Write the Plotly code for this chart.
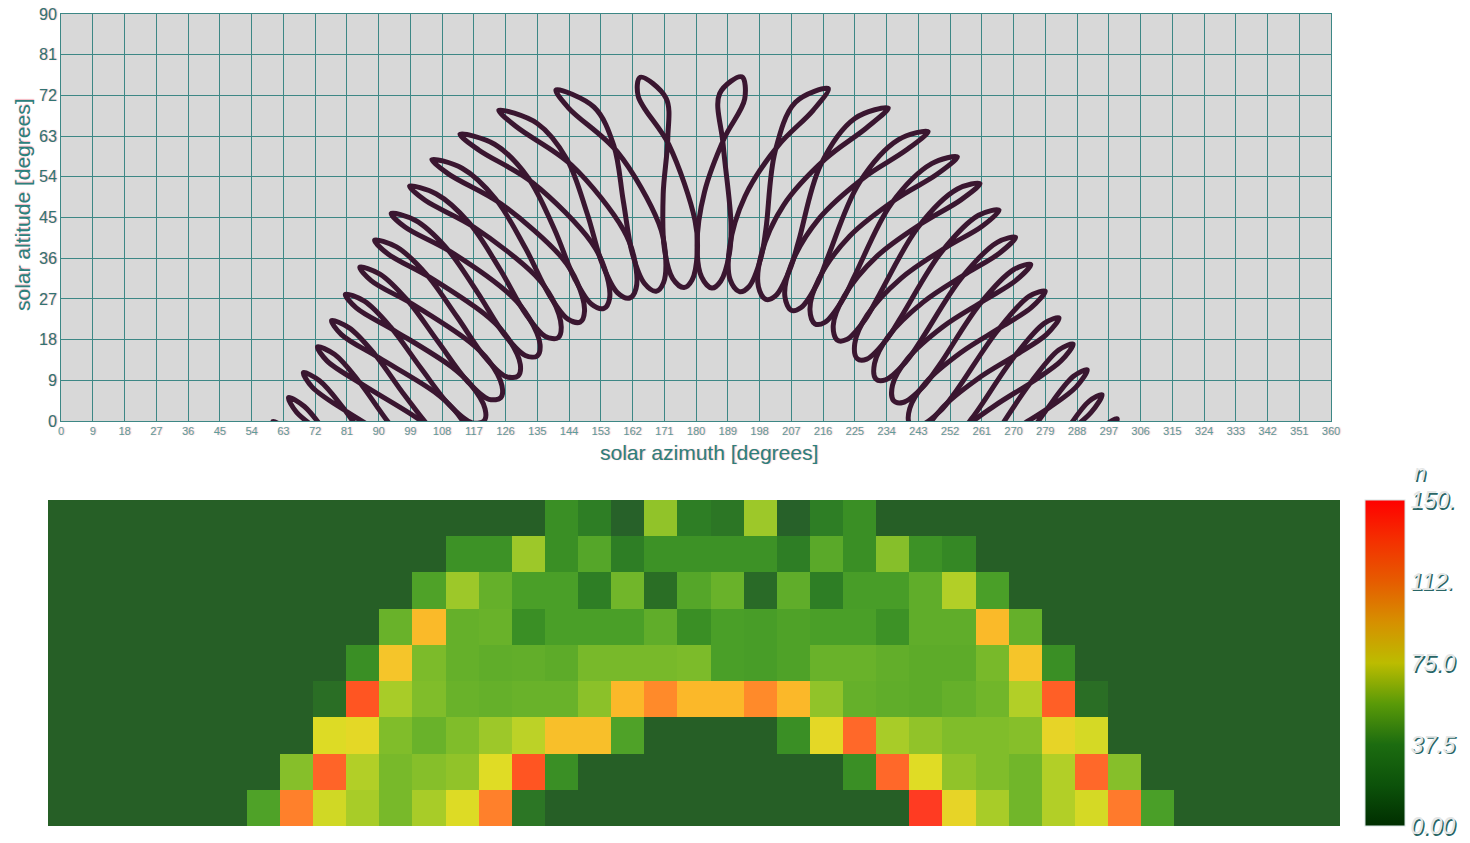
import plotly.graph_objects as go

W, H = 1470, 843

# ---------------- sun path (solar azimuth / altitude, degrees) ----------------
# Each list holds the 15 half-hour clock positions on one date,
# index 0 = the time nearest noon, index 14 = the time farthest from noon.
jun21_am_az = [164.2, 140.3, 124.1, 113.1, 105.1, 98.8, 93.6, 88.9, 84.7, 80.6, 76.7, 72.7, 68.7, 64.5, 60.1]
jun21_am_alt = [76.0, 73.2, 68.7, 63.4, 57.8, 51.9, 45.9, 40.0, 34.0, 28.0, 22.2, 16.4, 10.7, 5.2, -0.1]
jun21_pm_az = [193.0, 217.5, 234.5, 245.8, 254.1, 260.5, 265.9, 270.6, 274.9, 279.0, 282.9, 286.9, 290.9, 295.1, 299.4]
jun21_pm_alt = [76.1, 73.5, 69.2, 64.0, 58.4, 52.5, 46.6, 40.6, 34.6, 28.7, 22.8, 17.0, 11.3, 5.8, 0.5]

jul26_am_az = [163.6, 143.9, 129.2, 118.3, 109.9, 103.2, 97.5, 92.6, 88.0, 83.7, 79.5, 75.4, 71.2, 66.8, 62.3]
jul26_am_alt = [71.9, 69.2, 65.0, 60.0, 54.6, 48.8, 42.9, 37.0, 31.0, 25.0, 19.1, 13.3, 7.5, 1.9, -3.5]
jul26_pm_az = [186.7, 208.2, 225.0, 237.4, 246.8, 254.1, 260.1, 265.4, 270.1, 274.5, 278.7, 282.8, 287.0, 291.3, 295.7]
jul26_pm_alt = [72.4, 70.5, 66.9, 62.2, 56.9, 51.3, 45.5, 39.5, 33.5, 27.6, 21.6, 15.7, 9.9, 4.3, -1.2]

sep01_am_az = [172.3, 157.7, 144.7, 133.7, 124.6, 117.0, 110.5, 104.7, 99.5, 94.7, 90.1, 85.6, 81.1, 76.6, 71.9]
sep01_am_alt = [61.1, 59.5, 56.6, 52.7, 48.1, 42.9, 37.4, 31.7, 25.9, 19.9, 14.0, 8.0, 2.0, -3.9, -9.6]
sep01_pm_az = [187.7, 202.4, 215.3, 226.3, 235.4, 243.0, 249.6, 255.3, 260.5, 265.4, 270.0, 274.4, 278.9, 283.4, 288.1]
sep01_pm_alt = [61.1, 59.5, 56.6, 52.7, 48.1, 42.9, 37.4, 31.7, 25.9, 19.9, 14.0, 8.0, 2.0, -3.9, -9.6]

oct15_am_az = [179.7, 169.4, 159.5, 150.3, 141.9, 134.4, 127.6, 121.4, 115.8, 110.7, 105.9, 101.2, 96.7, 92.3, 87.8]
oct15_am_alt = [44.4, 43.8, 42.2, 39.6, 36.2, 32.2, 27.7, 22.8, 17.5, 12.0, 6.4, 0.5, -5.4, -11.3, -17.3]
oct15_pm_az = [189.9, 199.8, 209.1, 217.5, 225.2, 232.0, 238.2, 243.8, 249.0, 253.8, 258.5, 263.0, 267.4, 271.9, 276.6]
oct15_pm_alt = [43.9, 42.3, 39.8, 36.5, 32.5, 28.0, 23.1, 17.9, 12.4, 6.7, 0.9, -5.0, -10.9, -16.9, -22.9]

nov03_am_az = [180.4, 171.3, 162.5, 154.1, 146.3, 139.2, 132.6, 126.7, 121.2, 116.1, 111.3, 106.8, 102.5, 98.2, 93.8]
nov03_am_alt = [37.8, 37.3, 36.0, 33.7, 30.7, 27.1, 22.9, 18.3, 13.4, 8.1, 2.6, -3.0, -8.8, -14.7, -20.7]
nov03_pm_az = [189.5, 198.3, 206.6, 214.4, 221.5, 228.0, 233.9, 239.3, 244.4, 249.1, 253.6, 258.0, 262.3, 266.6, 271.1]
nov03_pm_alt = [37.2, 35.8, 33.5, 30.4, 26.7, 22.5, 17.9, 12.9, 7.6, 2.1, -3.6, -9.4, -15.3, -21.2, -27.2]

dec01_am_az = [178.9, 170.8, 163.0, 155.5, 148.4, 141.8, 135.8, 130.2, 125.0, 120.2, 115.6, 111.3, 107.2, 103.1, 99.1]
dec01_am_alt = [31.2, 30.6, 29.3, 27.1, 24.3, 20.8, 16.9, 12.5, 7.8, 2.7, -2.6, -8.0, -13.7, -19.5, -25.3]
dec01_pm_az = [187.0, 195.0, 202.6, 209.8, 216.5, 222.7, 228.4, 233.7, 238.6, 243.2, 247.5, 251.7, 255.8, 259.9, 264.0]
dec01_pm_alt = [30.9, 29.7, 27.7, 25.1, 21.8, 18.0, 13.7, 9.1, 4.1, -1.1, -6.6, -12.2, -17.9, -23.8, -29.7]

dec21_am_az = [176.6, 168.7, 161.2, 153.9, 147.2, 140.9, 135.0, 129.6, 124.7, 120.0, 115.6, 111.4, 107.4, 103.4, 99.4]
dec21_am_alt = [29.5, 28.7, 27.2, 24.9, 21.9, 18.4, 14.4, 10.0, 5.2, 0.1, -5.2, -10.7, -16.3, -22.1, -28.0]
dec21_pm_az = [184.5, 192.3, 199.8, 207.0, 213.7, 220.0, 225.7, 231.0, 236.0, 240.6, 245.0, 249.1, 253.2, 257.1, 261.1]
dec21_pm_alt = [29.4, 28.6, 26.9, 24.5, 21.5, 17.9, 13.8, 9.3, 4.5, -0.6, -5.9, -11.4, -17.1, -22.9, -28.8]

jan15_am_az = [173.4, 165.4, 157.7, 150.4, 143.6, 137.3, 131.6, 126.2, 121.3, 116.6, 112.2, 108.0, 103.9, 99.8, 95.7]
jan15_am_alt = [31.5, 30.4, 28.4, 25.8, 22.6, 18.7, 14.5, 9.8, 4.8, -0.4, -5.9, -11.5, -17.2, -23.1, -29.0]
jan15_pm_az = [181.6, 189.7, 197.7, 205.2, 212.3, 218.9, 225.0, 230.6, 235.7, 240.6, 245.1, 249.4, 253.6, 257.7, 261.7]
jan15_pm_alt = [31.8, 31.2, 29.7, 27.5, 24.6, 21.1, 17.1, 12.7, 7.9, 2.8, -2.5, -8.0, -13.7, -19.5, -25.4]

feb11_am_az = [171.0, 162.0, 153.5, 145.6, 138.4, 131.8, 125.8, 120.3, 115.3, 110.5, 105.9, 101.5, 97.2, 92.8, 88.3]
feb11_am_alt = [38.4, 36.9, 34.6, 31.5, 27.9, 23.6, 19.0, 14.0, 8.7, 3.2, -2.5, -8.4, -14.3, -20.2, -26.2]
feb11_pm_az = [180.3, 189.5, 198.5, 206.9, 214.8, 222.0, 228.5, 234.5, 239.9, 245.0, 249.8, 254.3, 258.7, 263.0, 267.4]
feb11_pm_alt = [38.8, 38.3, 36.8, 34.4, 31.4, 27.6, 23.4, 18.7, 13.7, 8.4, 2.9, -2.8, -8.7, -14.6, -20.5]

mar15_am_az = [170.7, 159.4, 149.1, 139.8, 131.6, 124.4, 118.0, 112.3, 107.0, 102.1, 97.4, 92.8, 88.3, 83.7, 78.9]
mar15_am_alt = [50.2, 48.6, 46.0, 42.5, 38.3, 33.6, 28.5, 23.0, 17.4, 11.6, 5.7, -0.3, -6.2, -12.2, -18.1]
mar15_pm_az = [182.4, 193.9, 204.8, 214.8, 223.6, 231.4, 238.2, 244.4, 249.9, 255.0, 259.8, 264.5, 269.0, 273.5, 278.2]
mar15_pm_alt = [50.6, 49.7, 47.7, 44.7, 40.9, 36.5, 31.6, 26.3, 20.8, 15.1, 9.3, 3.3, -2.6, -8.6, -14.6]

apr15_am_az = [172.0, 156.7, 143.4, 132.4, 123.2, 115.6, 109.1, 103.4, 98.2, 93.4, 88.9, 84.4, 80.0, 75.5, 70.8]
apr15_am_alt = [62.5, 60.9, 57.9, 53.8, 49.1, 43.9, 38.4, 32.6, 26.7, 20.8, 14.8, 8.8, 2.9, -3.0, -8.7]
apr15_pm_az = [188.0, 203.3, 216.6, 227.6, 236.8, 244.4, 250.9, 256.6, 261.8, 266.6, 271.1, 275.6, 280.0, 284.5, 289.2]
apr15_pm_alt = [62.5, 60.9, 57.9, 53.8, 49.1, 43.9, 38.4, 32.6, 26.7, 20.8, 14.8, 8.8, 2.9, -3.0, -8.7]

may14_am_az = [171.5, 151.1, 135.0, 122.9, 113.7, 106.4, 100.4, 95.1, 90.4, 86.0, 81.7, 77.6, 73.3, 69.0, 64.5]
may14_am_alt = [71.4, 69.4, 65.8, 61.2, 55.9, 50.2, 44.4, 38.5, 32.5, 26.5, 20.6, 14.7, 8.9, 3.2, -2.3]
may14_pm_az = [193.8, 213.2, 228.3, 239.6, 248.2, 255.1, 261.0, 266.0, 270.7, 275.1, 279.3, 283.5, 287.7, 292.0, 296.6]
may14_pm_alt = [71.2, 68.7, 64.8, 59.9, 54.5, 48.9, 43.0, 37.1, 31.1, 25.1, 19.1, 13.3, 7.5, 1.9, -3.6]

# dates in the order the curve is traced (starting mid-strand)
am_series = [
    (oct15_am_az, oct15_am_alt), (nov03_am_az, nov03_am_alt), (dec01_am_az, dec01_am_alt),
    (dec21_am_az, dec21_am_alt), (jan15_am_az, jan15_am_alt), (feb11_am_az, feb11_am_alt),
    (mar15_am_az, mar15_am_alt), (apr15_am_az, apr15_am_alt), (may14_am_az, may14_am_alt),
    (jun21_am_az, jun21_am_alt), (jul26_am_az, jul26_am_alt), (sep01_am_az, sep01_am_alt),
]
pm_series = [
    (oct15_pm_az, oct15_pm_alt), (nov03_pm_az, nov03_pm_alt), (dec01_pm_az, dec01_pm_alt),
    (dec21_pm_az, dec21_pm_alt), (jan15_pm_az, jan15_pm_alt), (feb11_pm_az, feb11_pm_alt),
    (mar15_pm_az, mar15_pm_alt), (apr15_pm_az, apr15_pm_alt), (may14_pm_az, may14_pm_alt),
    (jun21_pm_az, jun21_pm_alt), (jul26_pm_az, jul26_pm_alt), (sep01_pm_az, sep01_pm_alt),
]

az_ticks = list(range(0, 361, 9))
alt_ticks = list(range(0, 91, 9))

# ---------------- hit-count grid (39 azimuth bins x 9 altitude bands) ----------------
cells_alt_80_90 = [0]*15 + [28, 18, 3, 58, 18, 14, 60, 3, 18, 28] + [0]*14
cells_alt_70_80 = [0]*12 + [30, 30, 60, 28, 42, 18, 30, 30, 30, 30, 18, 44, 28, 56, 30, 24] + [0]*11
cells_alt_60_70 = [0]*11 + [40, 60, 48, 38, 38, 18, 51, 10, 42, 49, 8, 46, 18, 37, 37, 46, 64, 38] + [0]*10
cells_alt_50_60 = [0]*10 + [49, 94, 48, 49, 28, 38, 38, 38, 46, 28, 38, 37, 40, 38, 38, 30, 46, 46, 94, 48] + [0]*9
cells_alt_40_50 = [0]*9 + [28, 88, 54, 48, 46, 47, 45, 53, 53, 53, 54, 38, 37, 40, 49, 49, 47, 45, 45, 53, 88, 28] + [0]*8
cells_alt_30_40 = [0]*8 + [10, 132, 62, 55, 49, 48, 49, 49, 57, 95, 108, 95, 95, 108, 95, 58, 48, 46, 45, 48, 51, 64, 128, 10] + [0]*7
cells_alt_20_30 = [0]*8 + [75, 78, 55, 49, 55, 60, 66, 91, 91, 40, 0, 0, 0, 0, 28, 78, 124, 62, 58, 55, 55, 56, 80, 72] + [0]*7
cells_alt_10_20 = [0]*7 + [56, 126, 64, 53, 56, 58, 76, 132, 28] + [0]*8 + [28, 124, 76, 58, 55, 51, 64, 124, 56] + [0]*6
cells_alt_00_10 = [0]*6 + [40, 113, 70, 62, 53, 62, 75, 113, 14] + [0]*11 + [144, 80, 62, 51, 64, 72, 116, 38] + [0]*5

z_rows = [cells_alt_00_10, cells_alt_10_20, cells_alt_20_30, cells_alt_30_40, cells_alt_40_50,
          cells_alt_50_60, cells_alt_60_70, cells_alt_70_80, cells_alt_80_90]

cbar_vals = [0, 37.5, 75, 112.5, 150]
cbar_text = ["0.00", "37.5", "75.0", "112.", "150."]

# ---------------- styling ----------------
FONT = "Liberation Sans, Arial, sans-serif"
GRID = "#3d8785"
LINE = "#3a1630"
PINK_SHADOW = "1px 0px 1px rgba(235,120,140,0.55)"
BAR_TEXT_SHADOW = "1.5px 1.5px 0.5px #2a6666"

cell_scale = [
    [0/150, "#265f26"], [4/150, "#27622a"], [10/150, "#2a6e25"], [18/150, "#2e7e25"],
    [28/150, "#3a8f25"], [38/150, "#4a9f28"], [48/150, "#65b02a"], [55/150, "#80bd2a"],
    [62/150, "#a8cc28"], [70/150, "#d0d825"], [76/150, "#e0dc25"], [88/150, "#f5c52a"],
    [95/150, "#fbb829"], [108/150, "#ff8a2a"], [116/150, "#ff7a2c"], [126/150, "#ff6428"],
    [132/150, "#ff5522"], [144/150, "#ff3b22"], [1.0, "#ff3020"],
]
bar_scale = [
    [0.0, "#002e00"], [0.125, "#0c520a"], [0.25, "#1c6c10"], [0.375, "#5a9a08"],
    [0.5, "#bcbc00"], [0.625, "#d69000"], [0.75, "#e65c00"], [0.875, "#f43000"], [1.0, "#ff0000"],
]


def px_x(p):
    return p / W


def px_y(p):
    return (H - p) / H


fig = go.Figure()

for series in (am_series, pm_series):
    for k in range(15):
        xs = [s[0][k] for s in series] + [series[0][0][k]]
        ys = [s[1][k] for s in series] + [series[0][1][k]]
        fig.add_trace(go.Scatter(
            x=xs, y=ys, mode="lines",
            line=dict(color=LINE, width=5, shape="spline", smoothing=1.0),
            hoverinfo="skip", showlegend=False, xaxis="x", yaxis="y",
        ))

fig.add_trace(go.Heatmap(
    z=z_rows, x=list(range(39)), y=list(range(9)),
    zmin=0, zmax=150, colorscale=cell_scale, showscale=False,
    xaxis="x2", yaxis="y2", hoverinfo="skip",
))

# colour bar (reference bar colours)
fig.add_trace(go.Scatter(
    x=[-10], y=[-10], mode="markers", xaxis="x2", yaxis="y2",
    marker=dict(size=1, color=[0], cmin=0, cmax=150, colorscale=bar_scale, showscale=True,
                colorbar=dict(
                    x=px_x(1365), xanchor="left", xpad=0, ypad=0,
                    y=px_y(663), yanchor="middle", len=326 / H, lenmode="fraction",
                    thickness=40, thicknessmode="pixels",
                    outlinewidth=1, outlinecolor="#d7e4e4",
                    tickmode="array", tickvals=cbar_vals, ticktext=cbar_text, ticks="",
                    tickfont=dict(family=FONT, size=23, color="#e4e6e6", style="italic",
                                  shadow=BAR_TEXT_SHADOW),
                )),
    hoverinfo="skip", showlegend=False,
))

fig.update_layout(
    width=W, height=H,
    margin=dict(l=0, r=0, t=0, b=0, autoexpand=False),
    paper_bgcolor="white",
    plot_bgcolor="#d8d8d8",
    font=dict(family=FONT),
    xaxis=dict(
        domain=[px_x(61), px_x(1331)], range=[0, 360],
        tickmode="array", tickvals=az_ticks, ticktext=[str(v) for v in az_ticks], tickangle=0,
        showgrid=True, gridcolor=GRID, gridwidth=1, zeroline=False,
        showline=True, linecolor=GRID, linewidth=1, mirror=True, ticks="",
        tickfont=dict(size=11, color="#5c9d9b", shadow=PINK_SHADOW),
        anchor="y", automargin=False,
    ),
    yaxis=dict(
        domain=[px_y(421), px_y(14)], range=[0, 90],
        tickmode="array", tickvals=alt_ticks, ticktext=[str(v) for v in alt_ticks],
        showgrid=True, gridcolor=GRID, gridwidth=1, zeroline=False,
        showline=True, linecolor=GRID, linewidth=1, mirror=True, ticks="",
        tickfont=dict(size=16, color="#2f7473", shadow=PINK_SHADOW),
        anchor="x", automargin=False,
    ),
    xaxis2=dict(domain=[px_x(48), px_x(1340)], range=[-0.5, 38.5], visible=False, anchor="y2"),
    yaxis2=dict(domain=[px_y(826), px_y(500)], range=[-0.5, 8.5], visible=False, anchor="x2"),
    annotations=[
        dict(text="solar azimuth [degrees]", xref="paper", yref="paper",
             x=px_x(709), y=px_y(453), xanchor="center", yanchor="middle", showarrow=False,
             font=dict(size=21, color="#2c807c", shadow=PINK_SHADOW)),
        dict(text="solar altitude [degrees]", xref="paper", yref="paper", textangle=-90,
             x=px_x(22), y=px_y(205), xanchor="center", yanchor="middle", showarrow=False,
             font=dict(size=21, color="#2c807c", shadow=PINK_SHADOW)),
        dict(text="n", xref="paper", yref="paper",
             x=px_x(1420), y=px_y(472), xanchor="center", yanchor="middle", showarrow=False,
             font=dict(size=22, color="#e4e6e6", style="italic", shadow=BAR_TEXT_SHADOW)),
    ],
)

fig.write_html("out.html",
               config={"displayModeBar": False},
               post_script="document.body.style.margin='0px';document.body.style.overflow='hidden';")
